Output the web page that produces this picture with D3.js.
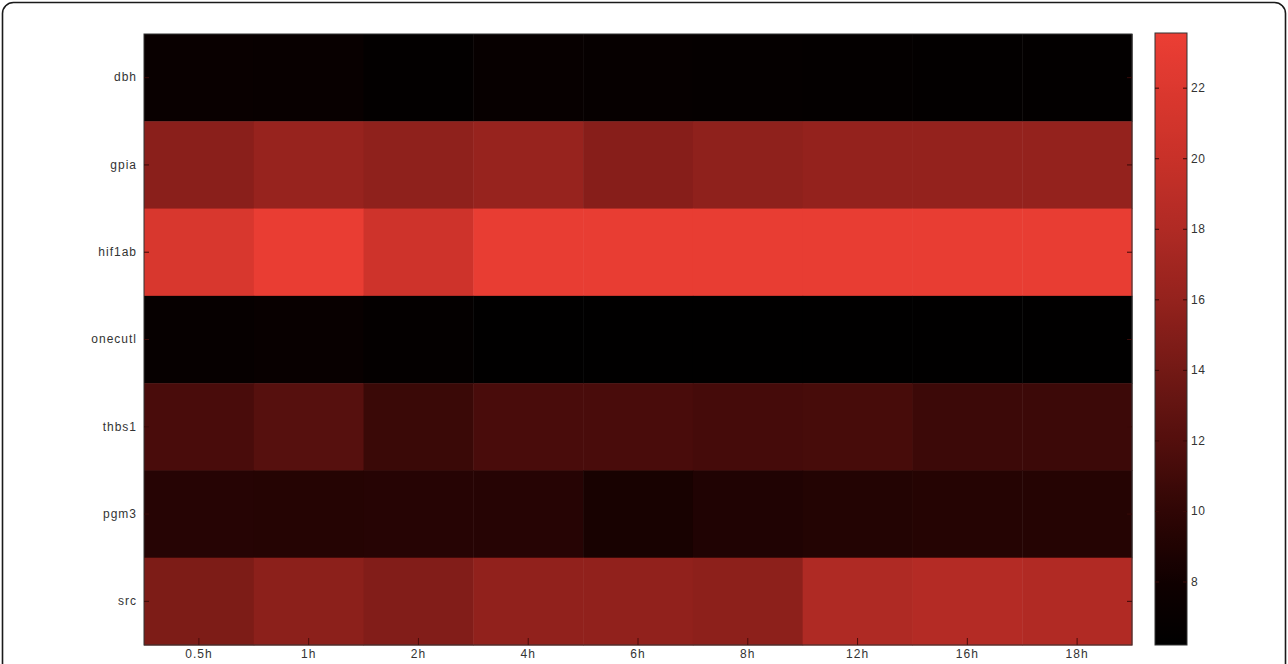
<!DOCTYPE html>
<html>
<head>
<meta charset="utf-8">
<script src="https://cdn.jsdelivr.net/npm/d3@7/dist/d3.min.js"></script>
<style>
  html, body { margin: 0; padding: 0; background: #fff; }
  svg { display: block; }
  text { font-family: "Liberation Sans", Arial, sans-serif; }
</style>
</head>
<body>
<svg id="chart" width="1288" height="664"></svg>
<script>
// ---- data ----
const genes = ["dbh", "gpia", "hif1ab", "onecutl", "thbs1", "pgm3", "src"];
const times = ["0.5h", "1h", "2h", "4h", "6h", "8h", "12h", "16h", "18h"];
const dbh     = [7.2, 7.1, 6.5, 7.0, 6.9, 6.8, 6.6, 6.5, 6.5];
const gpia    = [15.4, 16.2, 15.7, 16.2, 15.2, 15.7, 16.0, 16.0, 16.0];
const hif1ab  = [21.6, 23.3, 20.6, 23.2, 23.2, 23.2, 23.2, 23.2, 23.2];
const onecutl = [6.9, 7.1, 6.7, 6.3, 6.3, 6.3, 6.3, 6.3, 6.3];
const thbs1   = [11.4, 12.2, 10.6, 11.4, 11.4, 11.2, 11.3, 10.7, 10.7];
const pgm3    = [9.4, 9.3, 9.4, 9.4, 8.5, 9.0, 9.2, 9.3, 9.3];
const src     = [14.6, 15.5, 14.9, 15.8, 15.8, 15.6, 17.9, 18.3, 18.1];
const colorbarTicks = [8, 10, 12, 14, 16, 18, 20, 22];
const valueRange = [6.2, 23.55];

const rows = [dbh, gpia, hif1ab, onecutl, thbs1, pgm3, src];
const cells = [];
genes.forEach((g, i) => times.forEach((t, j) => cells.push({gene: g, time: t, value: rows[i][j]})));

// ---- layout ----
const svg = d3.select("#chart");
const plot = {left: 144, top: 34, right: 1132, bottom: 645};
const cbar = {left: 1155, right: 1187, top: 33, bottom: 645};

// colour map: black -> dark red -> red
const cmapStops = [6.2, 8, 10, 12, 14, 16, 18, 20, 22, 23.55];
const cmapColors = ["#000000", "#100000", "#300605", "#530f0d", "#731915", "#94221d", "#b02a24", "#c83129", "#dc382f", "#ec3e34"];
const color = d3.scaleLinear().domain(cmapStops).range(cmapColors).interpolate(d3.interpolateRgb).clamp(true);

const x = d3.scaleBand().domain(times).range([plot.left, plot.right]).padding(0);
const y = d3.scaleBand().domain(genes).range([plot.top, plot.bottom]).padding(0);

// outer rounded frame
svg.append("rect")
  .attr("x", 2.5).attr("y", 2.5).attr("width", 1283).attr("height", 720)
  .attr("rx", 11).attr("ry", 11)
  .attr("fill", "none").attr("stroke", "#1a1a1a").attr("stroke-width", 1.6);

// heatmap cells
svg.append("g").selectAll("rect").data(cells).join("rect")
  .attr("x", d => x(d.time))
  .attr("y", d => y(d.gene))
  .attr("width", x.bandwidth() + 0.5)
  .attr("height", y.bandwidth() + 0.5)
  .attr("fill", d => color(d.value));

// axes box
svg.append("rect")
  .attr("x", plot.left).attr("y", plot.top)
  .attr("width", plot.right - plot.left).attr("height", plot.bottom - plot.top)
  .attr("fill", "none").attr("stroke", "#333").attr("stroke-width", 1);

// y axis
const yAxis = svg.append("g").attr("transform", `translate(${plot.left},0)`)
  .call(d3.axisLeft(y).tickSize(-5).tickPadding(7));
yAxis.select(".domain").remove();
yAxis.selectAll(".tick line").attr("stroke", "#3a0a08").attr("stroke-width", 1);
yAxis.selectAll(".tick text").attr("fill", "#333").attr("font-size", 12).attr("letter-spacing", "1px");

// right-side ticks of the plot
const yAxisR = svg.append("g").attr("transform", `translate(${plot.right},0)`)
  .call(d3.axisRight(y).tickSize(-5).tickFormat(""));
yAxisR.select(".domain").remove();
yAxisR.selectAll(".tick line").attr("stroke", "#3a0a08");

// x axis
const xAxis = svg.append("g").attr("transform", `translate(0,${plot.bottom})`)
  .call(d3.axisBottom(x).tickSize(-7).tickPadding(4));
xAxis.select(".domain").remove();
xAxis.selectAll(".tick line").attr("stroke", "#4a0c0a");
xAxis.selectAll(".tick text").attr("fill", "#333").attr("font-size", 12).attr("letter-spacing", "1px");

// colour bar
const cScale = d3.scaleLinear().domain(valueRange).range([cbar.bottom, cbar.top]);
const defs = svg.append("defs");
const grad = defs.append("linearGradient").attr("id", "cgrad")
  .attr("x1", 0).attr("y1", 1).attr("x2", 0).attr("y2", 0);
d3.range(0, 1.0001, 0.02).forEach(t => {
  const v = valueRange[0] + t * (valueRange[1] - valueRange[0]);
  grad.append("stop").attr("offset", t).attr("stop-color", color(v));
});
svg.append("rect")
  .attr("x", cbar.left).attr("y", cbar.top)
  .attr("width", cbar.right - cbar.left).attr("height", cbar.bottom - cbar.top)
  .attr("fill", "url(#cgrad)").attr("stroke", "#333").attr("stroke-width", 1);

const cAxis = svg.append("g").attr("transform", `translate(${cbar.right},0)`)
  .call(d3.axisRight(cScale).tickValues(colorbarTicks).tickSize(-4).tickPadding(4).tickFormat(d3.format("d")));
cAxis.select(".domain").remove();
cAxis.selectAll(".tick line").attr("stroke", "#3a0a08");
cAxis.selectAll(".tick text").attr("fill", "#333").attr("font-size", 12).attr("letter-spacing", "0.5px");

const cAxisL = svg.append("g").attr("transform", `translate(${cbar.left},0)`)
  .call(d3.axisLeft(cScale).tickValues(colorbarTicks).tickSize(-4).tickFormat(""));
cAxisL.select(".domain").remove();
cAxisL.selectAll(".tick line").attr("stroke", "#3a0a08");
</script>
</body>
</html>
